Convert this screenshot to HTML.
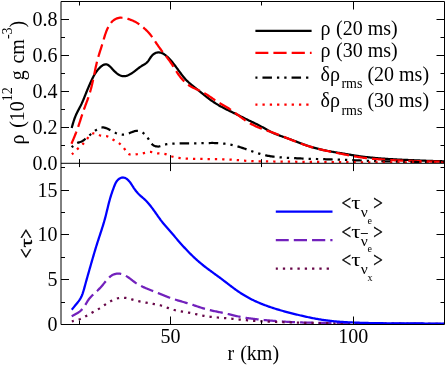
<!DOCTYPE html>
<html><head><meta charset="utf-8"><title>plot</title>
<style>html,body{margin:0;padding:0;background:#fff;width:447px;height:366px;overflow:hidden;font-family:"Liberation Serif",serif}</style>
</head><body>
<svg width="447" height="366" viewBox="0 0 447 366" style="display:block;position:absolute;left:0;top:0;will-change:transform">
<rect x="0" y="0" width="447" height="366" fill="#fff"/>
<defs><clipPath id="c1"><rect x="61" y="1.5" width="383.5" height="161.6"/></clipPath><clipPath id="c2"><rect x="61" y="163.1" width="383.5" height="161.4"/></clipPath></defs>
<path d="M71.70,128.00 L71.96,127.03 L72.23,126.07 L72.50,125.10 L72.77,124.14 L73.05,123.17 L73.34,122.22 L73.63,121.26 L73.94,120.31 L74.26,119.36 L74.59,118.42 L74.94,117.49 L75.30,116.56 L75.68,115.64 L76.08,114.73 L76.50,113.82 L76.93,112.92 L77.37,112.03 L77.83,111.14 L78.29,110.25 L78.75,109.37 L79.22,108.48 L79.68,107.59 L80.14,106.71 L80.60,105.82 L81.04,104.92 L81.48,104.03 L81.90,103.12 L82.31,102.22 L82.72,101.30 L83.11,100.39 L83.50,99.47 L83.88,98.55 L84.25,97.63 L84.62,96.70 L84.99,95.77 L85.36,94.84 L85.73,93.91 L86.10,92.98 L86.48,92.05 L86.85,91.12 L87.23,90.19 L87.62,89.26 L88.01,88.33 L88.41,87.40 L88.81,86.48 L89.21,85.56 L89.61,84.65 L90.02,83.73 L90.43,82.83 L90.84,81.93 L91.24,81.04 L91.65,80.15 L92.06,79.27 L92.48,78.40 L92.91,77.53 L93.35,76.67 L93.80,75.81 L94.28,74.96 L94.78,74.11 L95.31,73.26 L95.87,72.41 L96.47,71.57 L97.10,70.72 L97.78,69.88 L98.51,69.03 L99.27,68.20 L100.08,67.39 L100.91,66.64 L101.76,65.96 L102.63,65.36 L103.50,64.88 L104.37,64.53 L105.23,64.33 L106.07,64.30 L106.89,64.46 L107.68,64.78 L108.46,65.25 L109.23,65.83 L110.00,66.52 L110.75,67.28 L111.51,68.09 L112.28,68.94 L113.05,69.79 L113.83,70.64 L114.64,71.44 L115.46,72.21 L116.29,72.93 L117.14,73.59 L118.00,74.19 L118.88,74.73 L119.77,75.19 L120.66,75.58 L121.57,75.87 L122.49,76.08 L123.42,76.19 L124.35,76.19 L125.29,76.09 L126.23,75.89 L127.17,75.61 L128.10,75.26 L129.04,74.84 L129.96,74.36 L130.87,73.83 L131.76,73.27 L132.64,72.68 L133.50,72.07 L134.34,71.45 L135.15,70.82 L135.95,70.20 L136.73,69.58 L137.51,68.96 L138.30,68.35 L139.08,67.76 L139.88,67.18 L140.69,66.62 L141.53,66.08 L142.39,65.56 L143.27,65.05 L144.14,64.54 L144.99,64.00 L145.80,63.43 L146.57,62.81 L147.27,62.13 L147.91,61.39 L148.50,60.60 L149.06,59.78 L149.61,58.94 L150.16,58.09 L150.73,57.25 L151.33,56.43 L151.97,55.65 L152.68,54.92 L153.45,54.25 L154.28,53.66 L155.16,53.16 L156.08,52.78 L157.05,52.52 L158.05,52.40 L159.06,52.41 L160.07,52.53 L161.06,52.76 L162.01,53.09 L162.92,53.52 L163.78,54.02 L164.62,54.58 L165.42,55.19 L166.19,55.83 L166.95,56.50 L167.69,57.18 L168.41,57.88 L169.11,58.59 L169.80,59.32 L170.48,60.05 L171.14,60.80 L171.79,61.56 L172.43,62.32 L173.06,63.10 L173.69,63.88 L174.30,64.67 L174.91,65.46 L175.51,66.26 L176.11,67.07 L176.70,67.87 L177.29,68.68 L177.88,69.50 L178.48,70.31 L179.07,71.12 L179.66,71.93 L180.26,72.73 L180.86,73.54 L181.46,74.34 L182.08,75.13 L182.69,75.91 L183.32,76.69 L183.96,77.46 L184.61,78.21 L185.26,78.96 L185.94,79.69 L186.62,80.41 L187.32,81.12 L188.03,81.81 L188.76,82.49 L189.50,83.15 L190.26,83.81 L191.02,84.45 L191.79,85.09 L192.56,85.72 L193.35,86.34 L194.13,86.96 L194.92,87.58 L195.71,88.20 L196.50,88.82 L197.29,89.44 L198.07,90.06 L198.85,90.68 L199.63,91.31 L200.41,91.95 L201.18,92.58 L201.95,93.21 L202.72,93.85 L203.50,94.48 L204.27,95.11 L205.04,95.74 L205.82,96.37 L206.60,96.98 L207.39,97.60 L208.18,98.21 L208.98,98.81 L209.78,99.40 L210.59,99.99 L211.41,100.56 L212.23,101.13 L213.05,101.69 L213.89,102.25 L214.72,102.79 L215.57,103.33 L216.41,103.86 L217.27,104.39 L218.13,104.90 L218.99,105.41 L219.85,105.91 L220.72,106.40 L221.60,106.88 L222.48,107.36 L223.36,107.83 L224.25,108.29 L225.14,108.74 L226.03,109.19 L226.92,109.64 L227.82,110.08 L228.71,110.52 L229.61,110.96 L230.51,111.39 L231.41,111.82 L232.31,112.26 L233.21,112.69 L234.11,113.12 L235.01,113.56 L235.91,114.00 L236.80,114.44 L237.70,114.88 L238.59,115.33 L239.49,115.77 L240.38,116.22 L241.27,116.67 L242.16,117.12 L243.06,117.56 L243.95,118.01 L244.84,118.46 L245.74,118.90 L246.63,119.34 L247.53,119.78 L248.43,120.22 L249.33,120.66 L250.23,121.09 L251.13,121.52 L252.03,121.95 L252.93,122.38 L253.83,122.81 L254.73,123.24 L255.63,123.67 L256.53,124.11 L257.43,124.55 L258.32,125.00 L259.21,125.46 L260.10,125.92 L260.98,126.39 L261.85,126.87 L262.73,127.35 L263.60,127.84 L264.47,128.34 L265.34,128.83 L266.21,129.32 L267.08,129.81 L267.95,130.30 L268.83,130.77 L269.71,131.24 L270.60,131.70 L271.49,132.14 L272.39,132.57 L273.29,132.98 L274.20,133.39 L275.12,133.78 L276.04,134.16 L276.97,134.53 L277.89,134.90 L278.83,135.26 L279.76,135.61 L280.70,135.95 L281.64,136.29 L282.58,136.63 L283.53,136.96 L284.47,137.29 L285.42,137.62 L286.36,137.95 L287.31,138.28 L288.26,138.62 L289.20,138.95 L290.14,139.29 L291.08,139.63 L292.02,139.98 L292.96,140.33 L293.89,140.68 L294.83,141.04 L295.76,141.40 L296.69,141.76 L297.63,142.12 L298.56,142.48 L299.49,142.84 L300.42,143.19 L301.35,143.55 L302.29,143.90 L303.22,144.25 L304.16,144.59 L305.10,144.93 L306.04,145.27 L306.98,145.59 L307.93,145.91 L308.88,146.22 L309.83,146.52 L310.78,146.82 L311.74,147.10 L312.70,147.38 L313.66,147.66 L314.62,147.92 L315.59,148.18 L316.55,148.44 L317.52,148.68 L318.49,148.92 L319.46,149.16 L320.44,149.39 L321.41,149.61 L322.39,149.83 L323.37,150.04 L324.34,150.24 L325.32,150.45 L326.30,150.64 L327.28,150.83 L328.27,151.02 L329.25,151.21 L330.23,151.39 L331.21,151.56 L332.20,151.74 L333.18,151.91 L334.16,152.08 L335.15,152.24 L336.13,152.41 L337.12,152.58 L338.10,152.74 L339.09,152.90 L340.07,153.06 L341.06,153.23 L342.04,153.39 L343.03,153.55 L344.01,153.72 L345.00,153.89 L345.98,154.05 L346.97,154.22 L347.95,154.38 L348.94,154.55 L349.93,154.71 L350.91,154.87 L351.90,155.04 L352.88,155.19 L353.87,155.35 L354.85,155.51 L355.84,155.66 L356.83,155.81 L357.82,155.96 L358.80,156.10 L359.79,156.24 L360.78,156.38 L361.77,156.51 L362.76,156.64 L363.75,156.77 L364.75,156.89 L365.74,157.00 L366.73,157.12 L367.72,157.23 L368.71,157.34 L369.71,157.44 L370.70,157.55 L371.70,157.64 L372.69,157.74 L373.68,157.84 L374.68,157.93 L375.67,158.02 L376.67,158.10 L377.66,158.19 L378.66,158.27 L379.66,158.35 L380.65,158.43 L381.65,158.51 L382.64,158.58 L383.64,158.66 L384.64,158.73 L385.63,158.80 L386.63,158.87 L387.62,158.94 L388.62,159.00 L389.62,159.06 L390.61,159.13 L391.61,159.19 L392.61,159.24 L393.61,159.30 L394.60,159.36 L395.60,159.41 L396.60,159.46 L397.59,159.51 L398.59,159.56 L399.59,159.61 L400.59,159.66 L401.59,159.71 L402.58,159.75 L403.58,159.80 L404.58,159.84 L405.58,159.89 L406.57,159.93 L407.57,159.97 L408.57,160.01 L409.57,160.06 L410.57,160.10 L411.56,160.14 L412.56,160.18 L413.56,160.22 L414.56,160.27 L415.55,160.31 L416.55,160.35 L417.55,160.39 L418.55,160.43 L419.55,160.48 L420.54,160.52 L421.54,160.56 L422.54,160.60 L423.54,160.64 L424.54,160.68 L425.53,160.72 L426.53,160.76 L427.53,160.79 L428.53,160.83 L429.53,160.87 L430.52,160.90 L431.52,160.93 L432.52,160.97 L433.52,161.00 L434.52,161.03 L435.51,161.06 L436.51,161.09 L437.51,161.11 L438.51,161.14 L439.51,161.17 L440.51,161.20 L441.50,161.22 L442.50,161.25 L443.50,161.27 L444.50,161.30" fill="none" stroke="#000" stroke-width="2.25" stroke-linejoin="round" clip-path="url(#c1)"/>
<path d="M71.50,143.70 L71.89,142.78 L72.28,141.86 L72.67,140.93 L73.05,140.01 L73.44,139.09 L73.82,138.16 L74.20,137.24 L74.58,136.31 L74.95,135.39 L75.33,134.46 L75.69,133.53 L76.06,132.60 L76.41,131.66 L76.77,130.73 L77.11,129.79 L77.45,128.85 L77.79,127.91 L78.12,126.97 L78.44,126.02 L78.76,125.07 L79.08,124.13 L79.39,123.18 L79.70,122.23 L80.01,121.28 L80.31,120.32 L80.62,119.37 L80.93,118.42 L81.24,117.47 L81.54,116.52 L81.85,115.57 L82.17,114.62 L82.48,113.67 L82.80,112.72 L83.13,111.77 L83.46,110.83 L83.80,109.89 L84.13,108.95 L84.48,108.01 L84.83,107.07 L85.17,106.13 L85.52,105.20 L85.87,104.26 L86.22,103.32 L86.57,102.38 L86.92,101.45 L87.26,100.51 L87.60,99.57 L87.94,98.63 L88.27,97.68 L88.59,96.74 L88.91,95.79 L89.21,94.84 L89.51,93.88 L89.80,92.93 L90.09,91.97 L90.37,91.01 L90.64,90.05 L90.90,89.08 L91.16,88.12 L91.41,87.15 L91.65,86.18 L91.89,85.21 L92.12,84.23 L92.35,83.26 L92.58,82.28 L92.80,81.31 L93.01,80.33 L93.22,79.35 L93.43,78.37 L93.64,77.39 L93.84,76.41 L94.04,75.43 L94.24,74.45 L94.44,73.47 L94.64,72.49 L94.84,71.51 L95.04,70.53 L95.25,69.55 L95.45,68.57 L95.66,67.59 L95.87,66.61 L96.08,65.64 L96.30,64.66 L96.53,63.69 L96.76,62.72 L96.99,61.75 L97.24,60.78 L97.49,59.81 L97.75,58.85 L98.02,57.88 L98.29,56.92 L98.58,55.97 L98.87,55.01 L99.16,54.06 L99.46,53.10 L99.77,52.15 L100.07,51.20 L100.38,50.24 L100.69,49.29 L101.00,48.34 L101.30,47.39 L101.60,46.43 L101.90,45.48 L102.19,44.52 L102.48,43.57 L102.76,42.61 L103.04,41.65 L103.32,40.69 L103.60,39.73 L103.88,38.77 L104.17,37.81 L104.46,36.86 L104.76,35.90 L105.06,34.95 L105.38,34.00 L105.71,33.06 L106.05,32.12 L106.40,31.18 L106.78,30.25 L107.17,29.32 L107.58,28.40 L108.02,27.49 L108.48,26.59 L108.96,25.70 L109.49,24.84 L110.04,24.01 L110.64,23.20 L111.28,22.42 L111.97,21.69 L112.70,21.00 L113.49,20.36 L114.32,19.77 L115.20,19.24 L116.10,18.78 L117.04,18.39 L118.00,18.08 L118.98,17.86 L119.97,17.74 L120.97,17.70 L121.97,17.75 L122.97,17.85 L123.97,18.00 L124.96,18.19 L125.95,18.41 L126.93,18.64 L127.90,18.90 L128.86,19.19 L129.82,19.49 L130.76,19.83 L131.69,20.18 L132.61,20.57 L133.52,20.97 L134.42,21.41 L135.31,21.87 L136.18,22.35 L137.04,22.86 L137.89,23.39 L138.73,23.95 L139.55,24.52 L140.37,25.11 L141.17,25.71 L141.96,26.34 L142.73,26.98 L143.50,27.63 L144.25,28.29 L144.99,28.97 L145.72,29.66 L146.44,30.36 L147.14,31.07 L147.83,31.80 L148.51,32.53 L149.17,33.28 L149.82,34.05 L150.45,34.82 L151.07,35.60 L151.68,36.40 L152.27,37.21 L152.85,38.02 L153.42,38.84 L153.98,39.67 L154.53,40.50 L155.09,41.33 L155.64,42.17 L156.20,43.00 L156.75,43.83 L157.32,44.66 L157.88,45.48 L158.46,46.30 L159.04,47.11 L159.62,47.92 L160.21,48.73 L160.81,49.53 L161.41,50.33 L162.02,51.13 L162.63,51.92 L163.24,52.71 L163.86,53.50 L164.48,54.28 L165.10,55.07 L165.72,55.85 L166.34,56.64 L166.96,57.43 L167.57,58.22 L168.18,59.01 L168.78,59.81 L169.37,60.61 L169.95,61.42 L170.53,62.24 L171.09,63.06 L171.65,63.89 L172.19,64.73 L172.73,65.57 L173.27,66.41 L173.80,67.26 L174.33,68.11 L174.86,68.95 L175.39,69.80 L175.92,70.65 L176.46,71.49 L177.00,72.33 L177.55,73.16 L178.12,73.99 L178.69,74.82 L179.27,75.63 L179.87,76.44 L180.48,77.23 L181.11,78.02 L181.76,78.79 L182.42,79.55 L183.10,80.30 L183.80,81.02 L184.52,81.73 L185.25,82.42 L186.00,83.08 L186.77,83.73 L187.55,84.34 L188.36,84.93 L189.18,85.49 L190.02,86.02 L190.88,86.52 L191.75,87.00 L192.64,87.47 L193.53,87.91 L194.43,88.35 L195.34,88.77 L196.26,89.18 L197.17,89.59 L198.09,90.00 L199.01,90.41 L199.92,90.83 L200.83,91.26 L201.73,91.69 L202.63,92.14 L203.51,92.61 L204.38,93.10 L205.24,93.61 L206.09,94.13 L206.94,94.66 L207.77,95.21 L208.61,95.76 L209.43,96.33 L210.26,96.89 L211.08,97.47 L211.90,98.04 L212.72,98.61 L213.54,99.19 L214.37,99.75 L215.20,100.31 L216.03,100.87 L216.87,101.41 L217.72,101.94 L218.57,102.46 L219.43,102.98 L220.30,103.48 L221.16,103.99 L222.03,104.49 L222.90,104.98 L223.76,105.48 L224.63,105.98 L225.49,106.48 L226.35,106.99 L227.21,107.51 L228.06,108.03 L228.90,108.57 L229.74,109.11 L230.57,109.67 L231.39,110.23 L232.21,110.80 L233.02,111.38 L233.83,111.97 L234.63,112.56 L235.43,113.16 L236.24,113.76 L237.03,114.36 L237.83,114.96 L238.63,115.56 L239.43,116.16 L240.24,116.76 L241.04,117.36 L241.85,117.95 L242.66,118.54 L243.48,119.12 L244.30,119.69 L245.13,120.25 L245.97,120.81 L246.81,121.36 L247.65,121.90 L248.50,122.42 L249.36,122.94 L250.23,123.44 L251.10,123.93 L251.97,124.41 L252.86,124.88 L253.75,125.33 L254.65,125.77 L255.55,126.19 L256.46,126.60 L257.38,126.99 L258.30,127.38 L259.22,127.75 L260.16,128.11 L261.09,128.47 L262.03,128.82 L262.97,129.16 L263.91,129.50 L264.86,129.83 L265.80,130.16 L266.75,130.49 L267.70,130.82 L268.64,131.15 L269.59,131.47 L270.53,131.81 L271.48,132.14 L272.42,132.48 L273.36,132.82 L274.30,133.17 L275.24,133.51 L276.17,133.87 L277.11,134.22 L278.04,134.58 L278.98,134.93 L279.91,135.29 L280.84,135.66 L281.77,136.02 L282.70,136.39 L283.63,136.75 L284.56,137.12 L285.49,137.49 L286.42,137.86 L287.34,138.23 L288.27,138.61 L289.20,138.98 L290.13,139.35 L291.06,139.72 L291.99,140.09 L292.91,140.47 L293.84,140.84 L294.77,141.20 L295.70,141.57 L296.64,141.94 L297.57,142.30 L298.50,142.66 L299.44,143.01 L300.37,143.37 L301.31,143.71 L302.25,144.06 L303.19,144.40 L304.13,144.73 L305.08,145.06 L306.02,145.38 L306.97,145.70 L307.92,146.00 L308.87,146.30 L309.83,146.60 L310.79,146.89 L311.75,147.17 L312.71,147.44 L313.67,147.71 L314.63,147.98 L315.60,148.24 L316.57,148.49 L317.54,148.74 L318.51,148.98 L319.48,149.22 L320.45,149.46 L321.43,149.69 L322.40,149.91 L323.38,150.14 L324.35,150.36 L325.33,150.57 L326.31,150.79 L327.28,151.00 L328.26,151.20 L329.24,151.41 L330.22,151.61 L331.20,151.82 L332.18,152.02 L333.16,152.21 L334.14,152.41 L335.12,152.61 L336.10,152.80 L337.08,152.99 L338.06,153.19 L339.04,153.38 L340.02,153.57 L341.00,153.77 L341.98,153.96 L342.97,154.15 L343.95,154.35 L344.93,154.54 L345.91,154.73 L346.89,154.93 L347.87,155.12 L348.85,155.31 L349.84,155.50 L350.82,155.69 L351.80,155.87 L352.78,156.05 L353.77,156.23 L354.75,156.41 L355.74,156.58 L356.72,156.75 L357.71,156.91 L358.70,157.07 L359.68,157.22 L360.67,157.37 L361.66,157.51 L362.65,157.65 L363.64,157.78 L364.63,157.91 L365.63,158.03 L366.62,158.14 L367.61,158.26 L368.61,158.36 L369.60,158.47 L370.60,158.57 L371.59,158.66 L372.59,158.76 L373.59,158.85 L374.58,158.94 L375.58,159.02 L376.58,159.10 L377.57,159.18 L378.57,159.26 L379.57,159.34 L380.56,159.41 L381.56,159.48 L382.56,159.55 L383.56,159.62 L384.55,159.69 L385.55,159.75 L386.55,159.81 L387.55,159.87 L388.55,159.93 L389.54,159.99 L390.54,160.05 L391.54,160.10 L392.54,160.16 L393.54,160.21 L394.54,160.26 L395.53,160.31 L396.53,160.35 L397.53,160.40 L398.53,160.45 L399.53,160.49 L400.53,160.53 L401.53,160.58 L402.53,160.62 L403.52,160.66 L404.52,160.70 L405.52,160.73 L406.52,160.77 L407.52,160.81 L408.52,160.84 L409.52,160.88 L410.52,160.92 L411.52,160.95 L412.52,160.98 L413.52,161.02 L414.52,161.05 L415.51,161.08 L416.51,161.12 L417.51,161.15 L418.51,161.18 L419.51,161.21 L420.51,161.24 L421.51,161.27 L422.51,161.30 L423.51,161.33 L424.51,161.36 L425.51,161.38 L426.51,161.41 L427.51,161.44 L428.51,161.46 L429.51,161.49 L430.51,161.51 L431.51,161.54 L432.50,161.56 L433.50,161.58 L434.50,161.60 L435.50,161.62 L436.50,161.64 L437.50,161.66 L438.50,161.68 L439.50,161.70 L440.50,161.72 L441.50,161.74 L442.50,161.76 L443.50,161.78 L444.50,161.80" fill="none" stroke="#ff0000" stroke-width="2.25" stroke-dasharray="13.2,5.05" stroke-dashoffset="0.25" stroke-linejoin="round" clip-path="url(#c1)"/>
<path d="M71.70,147.30 L72.43,146.58 L73.17,145.87 L73.93,145.19 L74.70,144.54 L75.50,143.95 L76.34,143.42 L77.21,142.97 L78.13,142.60 L79.09,142.31 L80.05,142.03 L81.01,141.72 L81.92,141.34 L82.78,140.86 L83.60,140.28 L84.39,139.66 L85.16,139.00 L85.92,138.34 L86.69,137.69 L87.46,137.05 L88.23,136.41 L89.00,135.78 L89.76,135.15 L90.52,134.51 L91.28,133.88 L92.04,133.25 L92.80,132.61 L93.57,131.98 L94.36,131.36 L95.16,130.75 L95.98,130.14 L96.83,129.55 L97.70,129.00 L98.60,128.49 L99.51,128.07 L100.44,127.74 L101.38,127.52 L102.34,127.43 L103.30,127.47 L104.27,127.62 L105.24,127.86 L106.21,128.19 L107.17,128.58 L108.13,129.01 L109.07,129.49 L110.00,129.98 L110.91,130.48 L111.80,130.97 L112.68,131.46 L113.56,131.93 L114.44,132.38 L115.32,132.81 L116.23,133.21 L117.15,133.58 L118.10,133.91 L119.07,134.20 L120.06,134.43 L121.06,134.61 L122.06,134.71 L123.06,134.74 L124.05,134.69 L125.02,134.55 L125.98,134.33 L126.94,134.05 L127.89,133.73 L128.85,133.36 L129.80,132.98 L130.77,132.58 L131.74,132.19 L132.71,131.82 L133.68,131.49 L134.66,131.20 L135.63,130.99 L136.60,130.86 L137.57,130.83 L138.54,130.91 L139.50,131.11 L140.44,131.43 L141.36,131.84 L142.26,132.34 L143.11,132.91 L143.92,133.54 L144.69,134.20 L145.40,134.91 L146.07,135.65 L146.70,136.42 L147.30,137.22 L147.87,138.04 L148.41,138.89 L148.94,139.77 L149.46,140.65 L149.99,141.52 L150.55,142.37 L151.14,143.18 L151.78,143.93 L152.50,144.61 L153.29,145.20 L154.18,145.68 L155.12,146.06 L156.11,146.33 L157.13,146.48 L158.14,146.51 L159.14,146.42 L160.12,146.23 L161.08,145.96 L162.03,145.64 L162.97,145.30 L163.92,144.95 L164.87,144.64 L165.84,144.38 L166.81,144.17 L167.79,144.00 L168.79,143.88 L169.78,143.78 L170.78,143.72 L171.79,143.66 L172.79,143.63 L173.80,143.59 L174.80,143.55 L175.80,143.52 L176.80,143.48 L177.80,143.45 L178.80,143.41 L179.79,143.38 L180.79,143.36 L181.79,143.33 L182.78,143.31 L183.78,143.30 L184.78,143.29 L185.77,143.28 L186.77,143.28 L187.77,143.28 L188.77,143.29 L189.77,143.29 L190.77,143.30 L191.76,143.31 L192.76,143.31 L193.76,143.31 L194.76,143.31 L195.76,143.31 L196.76,143.30 L197.76,143.29 L198.76,143.27 L199.76,143.25 L200.75,143.23 L201.75,143.20 L202.75,143.17 L203.75,143.15 L204.75,143.12 L205.75,143.09 L206.74,143.06 L207.74,143.04 L208.74,143.02 L209.74,143.01 L210.74,143.00 L211.74,142.99 L212.74,142.99 L213.74,143.00 L214.74,143.02 L215.74,143.04 L216.73,143.08 L217.73,143.12 L218.73,143.17 L219.73,143.23 L220.72,143.30 L221.72,143.39 L222.71,143.48 L223.71,143.59 L224.70,143.71 L225.69,143.84 L226.68,143.99 L227.67,144.15 L228.65,144.32 L229.63,144.50 L230.61,144.70 L231.59,144.90 L232.57,145.12 L233.54,145.35 L234.51,145.58 L235.48,145.83 L236.45,146.09 L237.41,146.36 L238.37,146.64 L239.33,146.93 L240.28,147.22 L241.23,147.52 L242.18,147.83 L243.13,148.15 L244.07,148.47 L245.02,148.79 L245.96,149.12 L246.90,149.45 L247.85,149.78 L248.79,150.12 L249.73,150.45 L250.67,150.79 L251.61,151.12 L252.56,151.46 L253.50,151.79 L254.45,152.11 L255.39,152.44 L256.34,152.75 L257.29,153.06 L258.24,153.37 L259.20,153.66 L260.16,153.95 L261.11,154.22 L262.08,154.49 L263.04,154.74 L264.01,154.98 L264.98,155.20 L265.96,155.42 L266.94,155.62 L267.92,155.80 L268.90,155.98 L269.89,156.14 L270.87,156.30 L271.86,156.44 L272.85,156.58 L273.85,156.70 L274.84,156.82 L275.83,156.93 L276.83,157.03 L277.82,157.13 L278.82,157.22 L279.82,157.31 L280.81,157.38 L281.81,157.46 L282.80,157.53 L283.80,157.60 L284.80,157.66 L285.79,157.72 L286.79,157.78 L287.79,157.83 L288.78,157.88 L289.78,157.94 L290.78,157.99 L291.77,158.04 L292.77,158.09 L293.77,158.14 L294.77,158.19 L295.76,158.24 L296.76,158.28 L297.76,158.33 L298.76,158.38 L299.76,158.42 L300.75,158.46 L301.75,158.50 L302.75,158.54 L303.75,158.58 L304.74,158.62 L305.74,158.65 L306.74,158.69 L307.74,158.72 L308.74,158.76 L309.73,158.79 L310.73,158.82 L311.73,158.85 L312.73,158.88 L313.73,158.91 L314.73,158.94 L315.72,158.97 L316.72,159.00 L317.72,159.03 L318.72,159.06 L319.72,159.09 L320.71,159.12 L321.71,159.15 L322.71,159.18 L323.71,159.21 L324.71,159.24 L325.71,159.27 L326.70,159.31 L327.70,159.34 L328.70,159.37 L329.70,159.40 L330.70,159.43 L331.69,159.46 L332.69,159.50 L333.69,159.53 L334.69,159.56 L335.69,159.60 L336.68,159.63 L337.68,159.66 L338.68,159.70 L339.68,159.73 L340.68,159.77 L341.68,159.80 L342.67,159.84 L343.67,159.87 L344.67,159.91 L345.67,159.94 L346.67,159.98 L347.66,160.01 L348.66,160.05 L349.66,160.09 L350.66,160.12 L351.66,160.16 L352.65,160.20 L353.65,160.24 L354.65,160.28 L355.65,160.31 L356.64,160.35 L357.64,160.39 L358.64,160.43 L359.64,160.47 L360.64,160.50 L361.63,160.54 L362.63,160.58 L363.63,160.62 L364.63,160.66 L365.63,160.70 L366.62,160.73 L367.62,160.77 L368.62,160.81 L369.62,160.84 L370.62,160.88 L371.61,160.92 L372.61,160.95 L373.61,160.99 L374.61,161.02 L375.61,161.06 L376.60,161.09 L377.60,161.12 L378.60,161.16 L379.60,161.19 L380.60,161.22 L381.59,161.25 L382.59,161.28 L383.59,161.31 L384.59,161.34 L385.59,161.37 L386.59,161.39 L387.58,161.42 L388.58,161.45 L389.58,161.47 L390.58,161.50 L391.58,161.52 L392.57,161.55 L393.57,161.57 L394.57,161.59 L395.57,161.61 L396.57,161.64 L397.57,161.66 L398.56,161.68 L399.56,161.70 L400.56,161.72 L401.56,161.74 L402.56,161.76 L403.56,161.78 L404.56,161.80 L405.55,161.81 L406.55,161.83 L407.55,161.85 L408.55,161.86 L409.55,161.88 L410.55,161.90 L411.55,161.91 L412.54,161.93 L413.54,161.94 L414.54,161.96 L415.54,161.97 L416.54,161.99 L417.54,162.00 L418.53,162.01 L419.53,162.03 L420.53,162.04 L421.53,162.05 L422.53,162.06 L423.53,162.08 L424.53,162.09 L425.53,162.10 L426.52,162.11 L427.52,162.12 L428.52,162.14 L429.52,162.15 L430.52,162.16 L431.52,162.17 L432.52,162.18 L433.51,162.19 L434.51,162.20 L435.51,162.21 L436.51,162.22 L437.51,162.23 L438.51,162.24 L439.51,162.25 L440.51,162.26 L441.50,162.27 L442.50,162.28 L443.50,162.29 L444.50,162.30" fill="none" stroke="#000" stroke-width="2.25" stroke-dasharray="2.3,5.0,9.5,5.0,2.3,5.0" stroke-dashoffset="0.25" stroke-linejoin="round" clip-path="url(#c1)"/>
<path d="M71.90,154.40 L72.61,153.70 L73.32,152.99 L74.03,152.29 L74.74,151.60 L75.46,150.90 L76.18,150.21 L76.91,149.53 L77.65,148.85 L78.40,148.18 L79.15,147.52 L79.90,146.85 L80.64,146.18 L81.37,145.50 L82.09,144.81 L82.79,144.11 L83.47,143.39 L84.13,142.66 L84.77,141.90 L85.40,141.14 L86.02,140.35 L86.63,139.55 L87.24,138.74 L87.86,137.92 L88.50,137.09 L89.15,136.29 L89.84,135.54 L90.58,134.86 L91.38,134.27 L92.24,133.79 L93.18,133.45 L94.18,133.26 L95.20,133.26 L96.18,133.45 L97.10,133.83 L97.98,134.32 L98.85,134.83 L99.74,135.28 L100.68,135.58 L101.65,135.76 L102.65,135.85 L103.67,135.90 L104.69,135.95 L105.69,136.03 L106.67,136.19 L107.62,136.46 L108.53,136.83 L109.42,137.27 L110.29,137.78 L111.15,138.32 L112.00,138.88 L112.85,139.44 L113.72,139.98 L114.58,140.51 L115.45,141.01 L116.32,141.52 L117.17,142.03 L118.01,142.55 L118.84,143.10 L119.63,143.67 L120.40,144.28 L121.14,144.93 L121.86,145.62 L122.54,146.34 L123.20,147.11 L123.84,147.91 L124.44,148.76 L125.03,149.65 L125.60,150.55 L126.19,151.43 L126.79,152.26 L127.44,153.01 L128.14,153.65 L128.91,154.16 L129.77,154.50 L130.70,154.69 L131.69,154.77 L132.72,154.75 L133.78,154.66 L134.84,154.53 L135.89,154.39 L136.91,154.25 L137.92,154.12 L138.91,153.99 L139.89,153.85 L140.86,153.70 L141.83,153.54 L142.80,153.34 L143.77,153.12 L144.75,152.89 L145.74,152.65 L146.72,152.43 L147.71,152.23 L148.70,152.08 L149.69,152.00 L150.67,151.99 L151.66,152.08 L152.63,152.24 L153.61,152.45 L154.59,152.69 L155.56,152.92 L156.55,153.14 L157.54,153.31 L158.54,153.41 L159.54,153.47 L160.54,153.50 L161.54,153.54 L162.53,153.60 L163.52,153.72 L164.49,153.90 L165.45,154.14 L166.40,154.43 L167.34,154.76 L168.29,155.10 L169.23,155.46 L170.17,155.82 L171.12,156.17 L172.07,156.49 L173.03,156.78 L174.00,157.04 L174.97,157.27 L175.95,157.47 L176.93,157.65 L177.92,157.81 L178.91,157.95 L179.91,158.07 L180.90,158.17 L181.90,158.27 L182.90,158.35 L183.90,158.42 L184.90,158.49 L185.90,158.54 L186.90,158.60 L187.90,158.64 L188.89,158.69 L189.89,158.72 L190.89,158.76 L191.89,158.79 L192.88,158.81 L193.88,158.84 L194.88,158.86 L195.88,158.88 L196.88,158.90 L197.87,158.92 L198.87,158.94 L199.87,158.95 L200.87,158.97 L201.87,158.99 L202.87,159.00 L203.86,159.02 L204.86,159.03 L205.86,159.05 L206.86,159.06 L207.86,159.07 L208.86,159.08 L209.86,159.09 L210.86,159.10 L211.86,159.11 L212.86,159.12 L213.85,159.13 L214.85,159.14 L215.85,159.15 L216.85,159.16 L217.85,159.17 L218.85,159.18 L219.85,159.20 L220.84,159.22 L221.84,159.24 L222.84,159.27 L223.84,159.30 L224.84,159.34 L225.84,159.38 L226.83,159.42 L227.83,159.47 L228.83,159.53 L229.82,159.58 L230.82,159.64 L231.82,159.71 L232.82,159.77 L233.81,159.84 L234.81,159.92 L235.80,159.99 L236.80,160.07 L237.80,160.15 L238.79,160.23 L239.79,160.31 L240.78,160.39 L241.78,160.47 L242.78,160.56 L243.77,160.64 L244.77,160.71 L245.76,160.79 L246.76,160.86 L247.76,160.93 L248.75,160.99 L249.75,161.05 L250.75,161.10 L251.74,161.15 L252.74,161.19 L253.74,161.23 L254.74,161.26 L255.73,161.28 L256.73,161.31 L257.73,161.32 L258.73,161.34 L259.73,161.35 L260.73,161.37 L261.73,161.38 L262.73,161.39 L263.73,161.40 L264.73,161.41 L265.72,161.42 L266.72,161.43 L267.72,161.44 L268.72,161.45 L269.72,161.46 L270.72,161.47 L271.72,161.48 L272.72,161.49 L273.72,161.50 L274.71,161.51 L275.71,161.52 L276.71,161.53 L277.71,161.54 L278.71,161.56 L279.71,161.57 L280.71,161.58 L281.71,161.59 L282.70,161.60 L283.70,161.61 L284.70,161.63 L285.70,161.64 L286.70,161.65 L287.70,161.66 L288.70,161.67 L289.69,161.68 L290.69,161.70 L291.69,161.71 L292.69,161.72 L293.69,161.73 L294.69,161.74 L295.69,161.75 L296.68,161.76 L297.68,161.77 L298.68,161.79 L299.68,161.80 L300.68,161.81 L301.68,161.82 L302.68,161.83 L303.67,161.84 L304.67,161.85 L305.67,161.86 L306.67,161.87 L307.67,161.88 L308.67,161.89 L309.67,161.90 L310.67,161.91 L311.66,161.92 L312.66,161.93 L313.66,161.94 L314.66,161.94 L315.66,161.95 L316.66,161.96 L317.66,161.97 L318.65,161.98 L319.65,161.99 L320.65,162.00 L321.65,162.01 L322.65,162.01 L323.65,162.02 L324.65,162.03 L325.65,162.04 L326.64,162.04 L327.64,162.05 L328.64,162.06 L329.64,162.07 L330.64,162.08 L331.64,162.08 L332.64,162.09 L333.64,162.10 L334.63,162.10 L335.63,162.11 L336.63,162.12 L337.63,162.12 L338.63,162.13 L339.63,162.14 L340.63,162.14 L341.63,162.15 L342.63,162.16 L343.62,162.16 L344.62,162.17 L345.62,162.17 L346.62,162.18 L347.62,162.19 L348.62,162.19 L349.62,162.20 L350.62,162.20 L351.61,162.21 L352.61,162.21 L353.61,162.22 L354.61,162.23 L355.61,162.23 L356.61,162.24 L357.61,162.24 L358.61,162.25 L359.60,162.25 L360.60,162.26 L361.60,162.26 L362.60,162.27 L363.60,162.27 L364.60,162.27 L365.60,162.28 L366.60,162.28 L367.60,162.29 L368.59,162.29 L369.59,162.30 L370.59,162.30 L371.59,162.30 L372.59,162.31 L373.59,162.31 L374.59,162.32 L375.59,162.32 L376.58,162.32 L377.58,162.33 L378.58,162.33 L379.58,162.34 L380.58,162.34 L381.58,162.34 L382.58,162.35 L383.58,162.35 L384.57,162.35 L385.57,162.36 L386.57,162.36 L387.57,162.36 L388.57,162.37 L389.57,162.37 L390.57,162.37 L391.57,162.38 L392.56,162.38 L393.56,162.38 L394.56,162.39 L395.56,162.39 L396.56,162.39 L397.56,162.39 L398.56,162.40 L399.56,162.40 L400.55,162.40 L401.55,162.41 L402.55,162.41 L403.55,162.41 L404.55,162.41 L405.55,162.42 L406.55,162.42 L407.55,162.42 L408.54,162.42 L409.54,162.43 L410.54,162.43 L411.54,162.43 L412.54,162.43 L413.54,162.44 L414.54,162.44 L415.54,162.44 L416.53,162.44 L417.53,162.44 L418.53,162.45 L419.53,162.45 L420.53,162.45 L421.53,162.45 L422.53,162.46 L423.53,162.46 L424.52,162.46 L425.52,162.46 L426.52,162.46 L427.52,162.47 L428.52,162.47 L429.52,162.47 L430.52,162.47 L431.52,162.47 L432.51,162.48 L433.51,162.48 L434.51,162.48 L435.51,162.48 L436.51,162.48 L437.51,162.49 L438.51,162.49 L439.51,162.49 L440.50,162.49 L441.50,162.49 L442.50,162.50 L443.50,162.50 L444.50,162.50" fill="none" stroke="#ff0000" stroke-width="2.25" stroke-dasharray="2.3,5.0" stroke-dashoffset="0.25" stroke-linejoin="round" clip-path="url(#c1)"/>
<path d="M71.70,316.30 L72.61,315.82 L73.52,315.34 L74.43,314.85 L75.32,314.35 L76.20,313.84 L77.07,313.32 L77.92,312.78 L78.74,312.21 L79.54,311.62 L80.31,311.01 L81.05,310.36 L81.76,309.68 L82.43,308.97 L83.06,308.22 L83.65,307.43 L84.22,306.62 L84.76,305.78 L85.29,304.93 L85.81,304.06 L86.32,303.20 L86.84,302.33 L87.36,301.46 L87.90,300.61 L88.46,299.78 L89.05,298.97 L89.67,298.18 L90.32,297.42 L90.99,296.68 L91.69,295.97 L92.40,295.26 L93.13,294.58 L93.86,293.89 L94.61,293.22 L95.35,292.55 L96.10,291.88 L96.84,291.20 L97.57,290.52 L98.28,289.82 L98.98,289.11 L99.67,288.40 L100.34,287.67 L101.01,286.93 L101.67,286.18 L102.31,285.42 L102.96,284.66 L103.60,283.89 L104.24,283.12 L104.89,282.34 L105.53,281.57 L106.18,280.78 L106.84,280.01 L107.50,279.24 L108.19,278.48 L108.89,277.76 L109.63,277.07 L110.39,276.42 L111.18,275.82 L112.01,275.28 L112.89,274.81 L113.81,274.41 L114.77,274.09 L115.75,273.84 L116.75,273.68 L117.76,273.61 L118.76,273.61 L119.76,273.71 L120.76,273.88 L121.73,274.12 L122.70,274.42 L123.64,274.78 L124.57,275.19 L125.47,275.64 L126.34,276.13 L127.20,276.64 L128.04,277.19 L128.86,277.76 L129.67,278.34 L130.47,278.94 L131.27,279.55 L132.06,280.16 L132.86,280.77 L133.65,281.38 L134.46,281.98 L135.27,282.56 L136.09,283.13 L136.93,283.67 L137.78,284.19 L138.64,284.69 L139.51,285.17 L140.40,285.64 L141.29,286.09 L142.20,286.52 L143.11,286.95 L144.02,287.36 L144.94,287.76 L145.86,288.16 L146.79,288.55 L147.72,288.93 L148.64,289.31 L149.57,289.69 L150.50,290.07 L151.42,290.44 L152.35,290.82 L153.28,291.19 L154.21,291.56 L155.13,291.93 L156.06,292.30 L156.99,292.67 L157.91,293.04 L158.84,293.41 L159.77,293.79 L160.69,294.16 L161.62,294.54 L162.55,294.91 L163.48,295.29 L164.40,295.66 L165.33,296.03 L166.26,296.40 L167.19,296.76 L168.13,297.12 L169.06,297.47 L170.00,297.82 L170.94,298.16 L171.88,298.49 L172.83,298.81 L173.78,299.13 L174.73,299.44 L175.68,299.74 L176.63,300.03 L177.59,300.32 L178.55,300.61 L179.51,300.89 L180.47,301.17 L181.43,301.45 L182.39,301.72 L183.35,302.00 L184.31,302.28 L185.27,302.56 L186.23,302.84 L187.19,303.12 L188.15,303.41 L189.10,303.71 L190.06,304.01 L191.01,304.31 L191.96,304.62 L192.91,304.94 L193.86,305.25 L194.81,305.57 L195.76,305.89 L196.71,306.21 L197.65,306.53 L198.60,306.84 L199.55,307.16 L200.50,307.47 L201.45,307.77 L202.41,308.07 L203.36,308.37 L204.32,308.65 L205.28,308.93 L206.24,309.20 L207.20,309.46 L208.17,309.71 L209.14,309.95 L210.11,310.19 L211.08,310.41 L212.06,310.63 L213.03,310.85 L214.01,311.06 L214.99,311.26 L215.97,311.47 L216.95,311.67 L217.93,311.87 L218.91,312.07 L219.89,312.27 L220.87,312.47 L221.85,312.68 L222.83,312.89 L223.80,313.10 L224.78,313.32 L225.76,313.54 L226.73,313.77 L227.70,313.99 L228.68,314.22 L229.65,314.45 L230.62,314.69 L231.60,314.92 L232.57,315.15 L233.54,315.38 L234.52,315.61 L235.49,315.83 L236.46,316.05 L237.44,316.27 L238.42,316.48 L239.39,316.68 L240.37,316.88 L241.35,317.07 L242.34,317.25 L243.32,317.42 L244.30,317.59 L245.29,317.75 L246.28,317.91 L247.27,318.06 L248.26,318.20 L249.25,318.34 L250.24,318.47 L251.23,318.60 L252.22,318.72 L253.21,318.84 L254.21,318.96 L255.20,319.07 L256.20,319.18 L257.19,319.29 L258.19,319.40 L259.18,319.50 L260.18,319.61 L261.17,319.71 L262.17,319.81 L263.16,319.91 L264.16,320.01 L265.15,320.11 L266.15,320.20 L267.15,320.29 L268.14,320.39 L269.14,320.48 L270.13,320.56 L271.13,320.65 L272.13,320.74 L273.12,320.82 L274.12,320.90 L275.12,320.98 L276.11,321.06 L277.11,321.14 L278.11,321.21 L279.10,321.28 L280.10,321.36 L281.10,321.43 L282.09,321.49 L283.09,321.56 L284.09,321.62 L285.09,321.69 L286.08,321.75 L287.08,321.81 L288.08,321.86 L289.08,321.92 L290.07,321.97 L291.07,322.02 L292.07,322.07 L293.07,322.12 L294.07,322.17 L295.06,322.21 L296.06,322.26 L297.06,322.30 L298.06,322.33 L299.06,322.37 L300.06,322.41 L301.06,322.44 L302.06,322.48 L303.05,322.51 L304.05,322.54 L305.05,322.57 L306.05,322.59 L307.05,322.62 L308.05,322.64 L309.05,322.67 L310.05,322.69 L311.05,322.71 L312.05,322.73 L313.05,322.75 L314.05,322.77 L315.05,322.79 L316.05,322.81 L317.05,322.83 L318.05,322.84 L319.05,322.86 L320.05,322.87 L321.05,322.89 L322.05,322.90 L323.05,322.91 L324.05,322.93 L325.05,322.94 L326.05,322.95 L327.05,322.96 L328.04,322.98 L329.04,322.99 L330.04,323.00 L331.04,323.01 L332.04,323.02 L333.04,323.04 L334.04,323.05 L335.04,323.06 L336.04,323.07 L337.04,323.08 L338.04,323.09 L339.04,323.10 L340.04,323.12 L341.04,323.13 L342.04,323.14 L343.04,323.15 L344.04,323.16 L345.04,323.17 L346.04,323.18 L347.04,323.19 L348.04,323.20 L349.04,323.21 L350.04,323.23 L351.04,323.24 L352.04,323.25 L353.04,323.26 L354.04,323.27 L355.04,323.28 L356.04,323.29 L357.03,323.30 L358.03,323.31 L359.03,323.32 L360.03,323.33 L361.03,323.34 L362.03,323.35 L363.03,323.36 L364.03,323.37 L365.03,323.37 L366.03,323.38 L367.03,323.39 L368.03,323.40 L369.03,323.41 L370.03,323.42 L371.03,323.43 L372.03,323.44 L373.03,323.44 L374.03,323.45 L375.03,323.46 L376.03,323.47 L377.03,323.48 L378.02,323.48 L379.02,323.49 L380.02,323.50 L381.02,323.51 L382.02,323.51 L383.02,323.52 L384.02,323.53 L385.02,323.54 L386.02,323.54 L387.02,323.55 L388.02,323.56 L389.02,323.56 L390.02,323.57 L391.02,323.57 L392.02,323.58 L393.02,323.59 L394.02,323.59 L395.02,323.60 L396.02,323.60 L397.02,323.61 L398.02,323.62 L399.02,323.62 L400.02,323.63 L401.02,323.63 L402.01,323.64 L403.01,323.64 L404.01,323.65 L405.01,323.65 L406.01,323.66 L407.01,323.66 L408.01,323.67 L409.01,323.67 L410.01,323.67 L411.01,323.68 L412.01,323.68 L413.01,323.69 L414.01,323.69 L415.01,323.70 L416.01,323.70 L417.01,323.70 L418.01,323.71 L419.01,323.71 L420.01,323.72 L421.01,323.72 L422.01,323.72 L423.01,323.73 L424.01,323.73 L425.01,323.74 L426.01,323.74 L427.01,323.74 L428.01,323.75 L429.00,323.75 L430.00,323.75 L431.00,323.76 L432.00,323.76 L433.00,323.76 L434.00,323.77 L435.00,323.77 L436.00,323.77 L437.00,323.78 L438.00,323.78 L439.00,323.78 L440.00,323.79 L441.00,323.79 L442.00,323.79 L443.00,323.80 L444.00,323.80" fill="none" stroke="#7221bc" stroke-width="2.25" stroke-dasharray="13.2,5.05" stroke-dashoffset="0.25" stroke-linejoin="round" clip-path="url(#c2)"/>
<path d="M71.80,321.40 L72.78,321.19 L73.76,320.97 L74.74,320.75 L75.71,320.51 L76.67,320.25 L77.63,319.96 L78.57,319.65 L79.50,319.31 L80.43,318.93 L81.34,318.53 L82.24,318.10 L83.13,317.65 L84.02,317.18 L84.90,316.70 L85.78,316.21 L86.65,315.72 L87.52,315.23 L88.38,314.73 L89.25,314.24 L90.11,313.74 L90.98,313.25 L91.85,312.76 L92.72,312.28 L93.60,311.80 L94.48,311.32 L95.36,310.84 L96.23,310.36 L97.10,309.87 L97.97,309.38 L98.82,308.86 L99.67,308.34 L100.51,307.80 L101.34,307.25 L102.17,306.69 L103.00,306.13 L103.82,305.57 L104.65,305.00 L105.48,304.44 L106.31,303.88 L107.14,303.34 L107.98,302.80 L108.83,302.27 L109.69,301.76 L110.56,301.26 L111.43,300.79 L112.33,300.33 L113.23,299.91 L114.15,299.51 L115.08,299.14 L116.02,298.81 L116.98,298.51 L117.95,298.26 L118.93,298.06 L119.93,297.90 L120.92,297.79 L121.93,297.72 L122.93,297.71 L123.93,297.75 L124.92,297.83 L125.91,297.97 L126.89,298.15 L127.87,298.36 L128.84,298.60 L129.81,298.86 L130.77,299.13 L131.73,299.41 L132.70,299.69 L133.66,299.96 L134.62,300.22 L135.59,300.48 L136.55,300.73 L137.52,300.97 L138.49,301.20 L139.47,301.41 L140.44,301.62 L141.42,301.81 L142.40,302.00 L143.38,302.18 L144.37,302.35 L145.35,302.53 L146.33,302.71 L147.32,302.88 L148.30,303.06 L149.28,303.24 L150.26,303.42 L151.25,303.60 L152.23,303.77 L153.22,303.94 L154.20,304.10 L155.19,304.27 L156.17,304.44 L157.15,304.62 L158.13,304.82 L159.11,305.03 L160.07,305.27 L161.03,305.54 L161.99,305.82 L162.94,306.13 L163.88,306.46 L164.82,306.79 L165.76,307.13 L166.70,307.48 L167.64,307.83 L168.58,308.17 L169.52,308.51 L170.47,308.84 L171.41,309.15 L172.36,309.45 L173.32,309.73 L174.28,309.98 L175.25,310.22 L176.22,310.45 L177.19,310.66 L178.17,310.86 L179.15,311.05 L180.13,311.23 L181.12,311.40 L182.11,311.57 L183.09,311.73 L184.08,311.89 L185.07,312.06 L186.06,312.22 L187.05,312.38 L188.03,312.55 L189.02,312.73 L190.00,312.91 L190.98,313.11 L191.96,313.30 L192.94,313.51 L193.92,313.72 L194.90,313.93 L195.87,314.14 L196.85,314.36 L197.83,314.57 L198.80,314.79 L199.78,315.00 L200.75,315.20 L201.73,315.41 L202.71,315.60 L203.69,315.79 L204.67,315.97 L205.65,316.14 L206.63,316.30 L207.62,316.45 L208.60,316.59 L209.59,316.72 L210.58,316.84 L211.57,316.95 L212.57,317.06 L213.56,317.16 L214.55,317.25 L215.55,317.34 L216.54,317.42 L217.54,317.50 L218.54,317.58 L219.53,317.66 L220.53,317.74 L221.53,317.82 L222.53,317.89 L223.52,317.98 L224.52,318.06 L225.51,318.15 L226.51,318.24 L227.50,318.33 L228.50,318.43 L229.49,318.53 L230.48,318.63 L231.48,318.73 L232.47,318.83 L233.46,318.93 L234.46,319.03 L235.45,319.14 L236.44,319.24 L237.44,319.34 L238.43,319.44 L239.42,319.54 L240.41,319.64 L241.41,319.74 L242.40,319.84 L243.40,319.93 L244.39,320.02 L245.38,320.11 L246.38,320.20 L247.37,320.28 L248.37,320.37 L249.36,320.45 L250.36,320.53 L251.35,320.61 L252.35,320.69 L253.35,320.76 L254.34,320.84 L255.34,320.91 L256.33,320.98 L257.33,321.04 L258.33,321.11 L259.32,321.17 L260.32,321.23 L261.32,321.29 L262.31,321.35 L263.31,321.41 L264.31,321.46 L265.30,321.52 L266.30,321.57 L267.30,321.62 L268.30,321.67 L269.29,321.71 L270.29,321.76 L271.29,321.80 L272.28,321.85 L273.28,321.89 L274.28,321.93 L275.28,321.97 L276.28,322.00 L277.27,322.04 L278.27,322.08 L279.27,322.11 L280.27,322.15 L281.27,322.18 L282.26,322.21 L283.26,322.24 L284.26,322.27 L285.26,322.30 L286.26,322.33 L287.25,322.36 L288.25,322.39 L289.25,322.41 L290.25,322.44 L291.25,322.47 L292.24,322.49 L293.24,322.52 L294.24,322.54 L295.24,322.56 L296.24,322.59 L297.24,322.61 L298.23,322.64 L299.23,322.66 L300.23,322.68 L301.23,322.70 L302.23,322.72 L303.23,322.75 L304.22,322.77 L305.22,322.79 L306.22,322.81 L307.22,322.83 L308.22,322.85 L309.22,322.87 L310.21,322.88 L311.21,322.90 L312.21,322.92 L313.21,322.94 L314.21,322.96 L315.20,322.97 L316.20,322.99 L317.20,323.01 L318.20,323.02 L319.20,323.04 L320.20,323.06 L321.19,323.07 L322.19,323.09 L323.19,323.10 L324.19,323.12 L325.19,323.13 L326.19,323.15 L327.18,323.16 L328.18,323.18 L329.18,323.19 L330.18,323.20 L331.18,323.22 L332.18,323.23 L333.17,323.24 L334.17,323.25 L335.17,323.27 L336.17,323.28 L337.17,323.29 L338.17,323.30 L339.16,323.31 L340.16,323.33 L341.16,323.34 L342.16,323.35 L343.16,323.36 L344.16,323.37 L345.15,323.38 L346.15,323.39 L347.15,323.40 L348.15,323.41 L349.15,323.42 L350.15,323.43 L351.14,323.44 L352.14,323.45 L353.14,323.46 L354.14,323.47 L355.14,323.48 L356.14,323.48 L357.13,323.49 L358.13,323.50 L359.13,323.51 L360.13,323.52 L361.13,323.52 L362.13,323.53 L363.13,323.54 L364.12,323.55 L365.12,323.55 L366.12,323.56 L367.12,323.57 L368.12,323.57 L369.12,323.58 L370.11,323.59 L371.11,323.59 L372.11,323.60 L373.11,323.61 L374.11,323.61 L375.11,323.62 L376.10,323.62 L377.10,323.63 L378.10,323.63 L379.10,323.64 L380.10,323.64 L381.10,323.65 L382.09,323.65 L383.09,323.66 L384.09,323.66 L385.09,323.67 L386.09,323.67 L387.09,323.68 L388.09,323.68 L389.08,323.68 L390.08,323.69 L391.08,323.69 L392.08,323.70 L393.08,323.70 L394.08,323.70 L395.07,323.71 L396.07,323.71 L397.07,323.71 L398.07,323.72 L399.07,323.72 L400.07,323.72 L401.07,323.73 L402.06,323.73 L403.06,323.73 L404.06,323.73 L405.06,323.74 L406.06,323.74 L407.06,323.74 L408.05,323.74 L409.05,323.75 L410.05,323.75 L411.05,323.75 L412.05,323.75 L413.05,323.76 L414.05,323.76 L415.04,323.76 L416.04,323.76 L417.04,323.76 L418.04,323.76 L419.04,323.77 L420.04,323.77 L421.03,323.77 L422.03,323.77 L423.03,323.77 L424.03,323.77 L425.03,323.78 L426.03,323.78 L427.03,323.78 L428.02,323.78 L429.02,323.78 L430.02,323.78 L431.02,323.78 L432.02,323.79 L433.02,323.79 L434.02,323.79 L435.01,323.79 L436.01,323.79 L437.01,323.79 L438.01,323.79 L439.01,323.79 L440.01,323.80 L441.00,323.80 L442.00,323.80 L443.00,323.80 L444.00,323.80" fill="none" stroke="#670748" stroke-width="2.25" stroke-dasharray="2.3,5.0" stroke-dashoffset="0.25" stroke-linejoin="round" clip-path="url(#c2)"/>
<path d="M71.80,309.70 L72.42,308.92 L73.05,308.14 L73.67,307.36 L74.30,306.59 L74.93,305.81 L75.56,305.03 L76.20,304.26 L76.84,303.48 L77.47,302.70 L78.09,301.91 L78.70,301.11 L79.28,300.30 L79.84,299.48 L80.36,298.63 L80.84,297.77 L81.29,296.88 L81.70,295.98 L82.09,295.06 L82.45,294.12 L82.78,293.18 L83.10,292.22 L83.40,291.26 L83.68,290.29 L83.96,289.32 L84.23,288.34 L84.49,287.37 L84.76,286.39 L85.02,285.42 L85.29,284.45 L85.55,283.48 L85.82,282.51 L86.09,281.55 L86.36,280.58 L86.63,279.62 L86.90,278.66 L87.17,277.70 L87.44,276.74 L87.71,275.78 L87.98,274.82 L88.26,273.86 L88.53,272.91 L88.80,271.95 L89.07,270.99 L89.35,270.03 L89.62,269.07 L89.89,268.11 L90.17,267.15 L90.44,266.19 L90.71,265.22 L90.99,264.26 L91.26,263.30 L91.54,262.34 L91.81,261.38 L92.09,260.42 L92.36,259.45 L92.64,258.49 L92.92,257.53 L93.20,256.57 L93.48,255.61 L93.76,254.65 L94.04,253.69 L94.33,252.73 L94.61,251.77 L94.90,250.82 L95.19,249.86 L95.48,248.90 L95.77,247.95 L96.07,246.99 L96.36,246.03 L96.66,245.08 L96.96,244.13 L97.26,243.17 L97.57,242.22 L97.87,241.27 L98.18,240.32 L98.49,239.37 L98.79,238.41 L99.10,237.46 L99.41,236.51 L99.73,235.56 L100.04,234.61 L100.35,233.66 L100.66,232.71 L100.97,231.76 L101.28,230.81 L101.58,229.86 L101.89,228.91 L102.19,227.96 L102.49,227.00 L102.79,226.05 L103.09,225.09 L103.38,224.14 L103.67,223.18 L103.95,222.22 L104.23,221.26 L104.51,220.30 L104.78,219.34 L105.05,218.37 L105.31,217.40 L105.56,216.44 L105.81,215.46 L106.05,214.49 L106.30,213.52 L106.53,212.55 L106.77,211.57 L107.01,210.60 L107.24,209.63 L107.47,208.65 L107.71,207.68 L107.94,206.71 L108.18,205.74 L108.42,204.77 L108.67,203.80 L108.91,202.83 L109.17,201.87 L109.42,200.91 L109.69,199.95 L109.96,198.99 L110.23,198.04 L110.52,197.09 L110.81,196.14 L111.11,195.19 L111.41,194.25 L111.72,193.30 L112.04,192.36 L112.37,191.41 L112.70,190.46 L113.04,189.52 L113.38,188.57 L113.74,187.62 L114.10,186.67 L114.47,185.72 L114.85,184.77 L115.26,183.83 L115.70,182.92 L116.19,182.04 L116.74,181.20 L117.35,180.41 L118.05,179.68 L118.83,179.02 L119.70,178.45 L120.63,177.99 L121.61,177.66 L122.60,177.49 L123.59,177.51 L124.55,177.73 L125.48,178.11 L126.37,178.63 L127.20,179.25 L127.97,179.92 L128.68,180.64 L129.35,181.39 L129.97,182.18 L130.56,182.98 L131.12,183.81 L131.66,184.65 L132.20,185.50 L132.74,186.34 L133.28,187.19 L133.83,188.03 L134.40,188.85 L134.98,189.67 L135.58,190.48 L136.19,191.27 L136.83,192.04 L137.48,192.80 L138.15,193.54 L138.85,194.25 L139.57,194.94 L140.30,195.62 L141.05,196.29 L141.80,196.94 L142.56,197.60 L143.32,198.25 L144.08,198.91 L144.82,199.58 L145.55,200.26 L146.26,200.96 L146.95,201.68 L147.62,202.42 L148.28,203.18 L148.92,203.95 L149.55,204.73 L150.17,205.51 L150.78,206.30 L151.40,207.10 L152.00,207.89 L152.60,208.69 L153.20,209.50 L153.79,210.30 L154.37,211.11 L154.96,211.92 L155.53,212.74 L156.11,213.56 L156.68,214.38 L157.25,215.20 L157.82,216.02 L158.40,216.84 L158.97,217.66 L159.55,218.47 L160.14,219.28 L160.73,220.09 L161.34,220.88 L161.95,221.67 L162.58,222.45 L163.21,223.22 L163.85,223.99 L164.50,224.75 L165.15,225.51 L165.80,226.27 L166.46,227.03 L167.11,227.78 L167.77,228.54 L168.43,229.29 L169.08,230.05 L169.74,230.80 L170.39,231.55 L171.05,232.31 L171.70,233.07 L172.35,233.82 L173.01,234.58 L173.66,235.34 L174.31,236.10 L174.95,236.86 L175.60,237.62 L176.26,238.38 L176.91,239.14 L177.56,239.90 L178.21,240.65 L178.87,241.41 L179.53,242.16 L180.19,242.91 L180.85,243.66 L181.52,244.41 L182.19,245.16 L182.86,245.90 L183.53,246.64 L184.21,247.38 L184.89,248.12 L185.57,248.85 L186.26,249.58 L186.95,250.31 L187.64,251.03 L188.34,251.75 L189.04,252.47 L189.75,253.18 L190.45,253.89 L191.16,254.59 L191.88,255.30 L192.60,255.99 L193.32,256.69 L194.05,257.38 L194.78,258.06 L195.51,258.74 L196.25,259.41 L196.99,260.08 L197.74,260.75 L198.49,261.41 L199.24,262.06 L200.00,262.71 L200.77,263.36 L201.54,263.99 L202.31,264.63 L203.09,265.25 L203.87,265.87 L204.66,266.49 L205.45,267.10 L206.24,267.71 L207.04,268.31 L207.84,268.91 L208.64,269.51 L209.44,270.10 L210.25,270.69 L211.06,271.28 L211.86,271.87 L212.67,272.46 L213.48,273.04 L214.30,273.63 L215.11,274.22 L215.92,274.80 L216.73,275.39 L217.53,275.98 L218.34,276.57 L219.15,277.17 L219.95,277.76 L220.75,278.36 L221.55,278.97 L222.35,279.57 L223.15,280.18 L223.94,280.79 L224.74,281.40 L225.53,282.01 L226.33,282.62 L227.12,283.23 L227.91,283.84 L228.71,284.45 L229.50,285.06 L230.30,285.67 L231.09,286.27 L231.89,286.87 L232.69,287.47 L233.50,288.07 L234.30,288.66 L235.11,289.25 L235.92,289.83 L236.74,290.41 L237.55,290.99 L238.37,291.55 L239.20,292.12 L240.03,292.67 L240.86,293.22 L241.70,293.76 L242.55,294.29 L243.40,294.82 L244.25,295.33 L245.11,295.84 L245.98,296.34 L246.85,296.84 L247.72,297.32 L248.60,297.80 L249.48,298.27 L250.37,298.74 L251.26,299.19 L252.16,299.64 L253.06,300.08 L253.96,300.52 L254.87,300.94 L255.78,301.36 L256.69,301.78 L257.61,302.19 L258.53,302.59 L259.45,302.98 L260.37,303.37 L261.30,303.75 L262.23,304.12 L263.16,304.49 L264.10,304.86 L265.03,305.21 L265.97,305.56 L266.91,305.91 L267.85,306.25 L268.80,306.58 L269.74,306.91 L270.69,307.23 L271.64,307.55 L272.59,307.87 L273.54,308.17 L274.49,308.48 L275.44,308.78 L276.40,309.07 L277.36,309.36 L278.31,309.65 L279.27,309.93 L280.23,310.21 L281.19,310.49 L282.16,310.76 L283.12,311.03 L284.08,311.30 L285.05,311.56 L286.02,311.82 L286.98,312.08 L287.95,312.33 L288.92,312.59 L289.89,312.84 L290.86,313.09 L291.83,313.33 L292.80,313.58 L293.77,313.82 L294.74,314.06 L295.71,314.30 L296.69,314.54 L297.66,314.77 L298.63,315.01 L299.61,315.24 L300.58,315.47 L301.55,315.70 L302.53,315.93 L303.51,316.15 L304.48,316.37 L305.46,316.59 L306.44,316.81 L307.41,317.02 L308.39,317.23 L309.37,317.44 L310.35,317.64 L311.33,317.84 L312.31,318.04 L313.29,318.23 L314.27,318.42 L315.26,318.60 L316.24,318.78 L317.22,318.96 L318.21,319.13 L319.19,319.30 L320.18,319.47 L321.17,319.63 L322.15,319.78 L323.14,319.93 L324.13,320.08 L325.12,320.22 L326.11,320.35 L327.10,320.48 L328.09,320.61 L329.08,320.73 L330.08,320.84 L331.07,320.95 L332.06,321.06 L333.06,321.16 L334.05,321.26 L335.05,321.35 L336.04,321.44 L337.04,321.53 L338.04,321.61 L339.04,321.69 L340.03,321.77 L341.03,321.84 L342.03,321.91 L343.03,321.97 L344.03,322.04 L345.03,322.10 L346.02,322.16 L347.02,322.21 L348.02,322.27 L349.02,322.32 L350.02,322.37 L351.02,322.41 L352.02,322.46 L353.02,322.50 L354.02,322.54 L355.02,322.58 L356.02,322.62 L357.02,322.66 L358.02,322.69 L359.02,322.73 L360.02,322.76 L361.02,322.79 L362.02,322.82 L363.02,322.85 L364.02,322.88 L365.02,322.91 L366.02,322.93 L367.02,322.96 L368.02,322.98 L369.01,323.00 L370.01,323.02 L371.01,323.05 L372.01,323.07 L373.01,323.08 L374.01,323.10 L375.01,323.12 L376.01,323.14 L377.01,323.15 L378.01,323.17 L379.01,323.19 L380.01,323.20 L381.01,323.21 L382.01,323.23 L383.01,323.24 L384.01,323.25 L385.01,323.27 L386.01,323.28 L387.01,323.29 L388.01,323.30 L389.01,323.31 L390.01,323.32 L391.00,323.33 L392.00,323.34 L393.00,323.35 L394.00,323.36 L395.00,323.37 L396.00,323.38 L397.00,323.39 L398.00,323.39 L399.00,323.40 L400.00,323.41 L401.00,323.41 L402.00,323.42 L403.00,323.43 L404.00,323.43 L405.00,323.44 L406.00,323.44 L407.00,323.45 L408.00,323.45 L409.00,323.46 L410.00,323.46 L411.00,323.46 L412.00,323.47 L413.00,323.47 L414.00,323.47 L415.00,323.48 L416.00,323.48 L417.00,323.48 L418.00,323.48 L419.00,323.49 L420.00,323.49 L421.00,323.49 L422.00,323.49 L423.00,323.49 L424.00,323.49 L425.00,323.50 L426.00,323.50 L427.00,323.50 L428.00,323.50 L429.00,323.50 L430.00,323.50 L431.00,323.50 L432.00,323.50 L433.00,323.50 L434.00,323.50 L435.00,323.50 L436.00,323.50 L437.00,323.50 L438.00,323.50 L439.00,323.50 L440.00,323.50 L441.00,323.50 L442.00,323.50 L443.00,323.50 L444.00,323.50" fill="none" stroke="#0000ff" stroke-width="2.25" stroke-linejoin="round" clip-path="url(#c2)"/>
<path d="M61.0,1.5 H444.5 V324.5 H61.0 Z M61.0,163.29999999999998 H444.5 M79.50,163.1 v-4.0 M79.50,1.5 v4.0 M79.50,324.5 v-4.0 M79.50,163.1 v4.0 M170.50,163.1 v-8.0 M170.50,1.5 v8.0 M170.50,324.5 v-8.0 M170.50,163.1 v8.0 M261.50,163.1 v-4.0 M261.50,1.5 v4.0 M261.50,324.5 v-4.0 M261.50,163.1 v4.0 M353.50,163.1 v-8.0 M353.50,1.5 v8.0 M353.50,324.5 v-8.0 M353.50,163.1 v8.0 M61.0,145.50 h4.0 M444.5,145.50 h-4.0 M61.0,127.50 h8.0 M444.5,127.50 h-8.0 M61.0,109.50 h4.0 M444.5,109.50 h-4.0 M61.0,91.50 h8.0 M444.5,91.50 h-8.0 M61.0,73.50 h4.0 M444.5,73.50 h-4.0 M61.0,55.50 h8.0 M444.5,55.50 h-8.0 M61.0,37.50 h4.0 M444.5,37.50 h-4.0 M61.0,19.50 h8.0 M444.5,19.50 h-8.0 M61.0,302.50 h4.0 M444.5,302.50 h-4.0 M61.0,279.50 h8.0 M444.5,279.50 h-8.0 M61.0,257.50 h4.0 M444.5,257.50 h-4.0 M61.0,234.50 h8.0 M444.5,234.50 h-8.0 M61.0,212.50 h4.0 M444.5,212.50 h-4.0 M61.0,190.50 h8.0 M444.5,190.50 h-8.0 M61.0,167.50 h4.0 M444.5,167.50 h-4.0" fill="none" stroke="#000" stroke-width="1.0"/>
<g font-family="Liberation Serif, serif" font-size="20" fill="#000">
<text x="57.5" y="169.70" text-anchor="end">0.0</text>
<text x="57.5" y="133.79" text-anchor="end">0.2</text>
<text x="57.5" y="97.88" text-anchor="end">0.4</text>
<text x="57.5" y="61.97" text-anchor="end">0.6</text>
<text x="57.5" y="26.06" text-anchor="end">0.8</text>
<text x="57.5" y="331.10" text-anchor="end">0</text>
<text x="57.5" y="286.27" text-anchor="end">5</text>
<text x="57.5" y="241.43" text-anchor="end">10</text>
<text x="57.5" y="196.60" text-anchor="end">15</text>
<text x="170.57" y="342.8" text-anchor="middle">50</text>
<text x="353.19" y="342.8" text-anchor="middle">100</text>
<text x="253.3" y="359.8" text-anchor="middle" word-spacing="1">r (km)</text>
<text transform="translate(24,82.7) rotate(-90)" text-anchor="middle" word-spacing="1.8">ρ (10<tspan font-size="14" dy="-12">12</tspan><tspan dy="12"> g cm</tspan><tspan font-size="14" dy="-12">-3</tspan><tspan dy="12">)</tspan></text>
<g transform="translate(32.3,257.8) rotate(-90)" stroke="#000" stroke-width="0.4"><text transform="translate(-0.5,0.4) scale(1,1.19)" font-size="17">&lt;</text><text transform="translate(10.3,-0.5) scale(1.28,1.0)" font-size="17.5">τ</text><text transform="translate(19.2,0.4) scale(1,1.19)" font-size="17">&gt;</text></g>
<text x="320.4" y="35.1">ρ<tspan dx="0.6"> (20 ms)</tspan></text>
<text x="320.4" y="56.7">ρ<tspan dx="0.6"> (30 ms)</tspan></text>
<text x="320.6" y="81.1">δρ<tspan font-size="14" dy="7.1" dx="1.4">rms</tspan><tspan dy="-7.1"> (20 ms)</tspan></text>
<text x="320.6" y="107.4">δρ<tspan font-size="14" dy="7.1" dx="1.4">rms</tspan><tspan dy="-7.1"> (30 ms)</tspan></text>
<text transform="translate(341.4,210.00) scale(1,1.25)" font-size="17" stroke="#000" stroke-width="0.3">&lt;</text>
<text transform="translate(351.3,209.10) scale(1.06,0.84)" font-size="22">τ</text>
<text x="360.8" y="217.40" font-size="15.5">ν</text>
<text x="367.6" y="223.80" font-size="10">e</text>
<text transform="translate(373.2,210.00) scale(1,1.25)" font-size="17" stroke="#000" stroke-width="0.3">&gt;</text>
<text transform="translate(341.4,238.50) scale(1,1.25)" font-size="17" stroke="#000" stroke-width="0.3">&lt;</text>
<text transform="translate(351.3,237.60) scale(1.06,0.84)" font-size="22">τ</text>
<text x="360.8" y="245.90" font-size="15.5">ν</text>
<text x="367.6" y="252.30" font-size="10">e</text>
<text transform="translate(373.2,238.50) scale(1,1.25)" font-size="17" stroke="#000" stroke-width="0.3">&gt;</text>
<path d="M360.8,233.50 H367.9" stroke="#000" stroke-width="0.9" fill="none"/>
<text transform="translate(341.4,266.90) scale(1,1.25)" font-size="17" stroke="#000" stroke-width="0.3">&lt;</text>
<text transform="translate(351.3,266.00) scale(1.06,0.84)" font-size="22">τ</text>
<text x="360.8" y="274.30" font-size="15.5">ν</text>
<text x="367.6" y="280.70" font-size="10">x</text>
<text transform="translate(373.2,266.90) scale(1,1.25)" font-size="17" stroke="#000" stroke-width="0.3">&gt;</text>
</g>
<path d="M255.4,30.8 H311.6" fill="none" stroke="#000" stroke-width="2.25"/>
<path d="M255.4,52.9 H311.6" fill="none" stroke="#ff0000" stroke-width="2.25" stroke-dasharray="13.2,5.05" stroke-dashoffset="0.25"/>
<path d="M255.4,77.5 H311.6" fill="none" stroke="#000" stroke-width="2.25" stroke-dasharray="2.3,5.0,9.5,5.0,2.3,5.0" stroke-dashoffset="0.25"/>
<path d="M255.4,104.6 H311.6" fill="none" stroke="#ff0000" stroke-width="2.25" stroke-dasharray="2.3,5.0" stroke-dashoffset="0.25"/>
<path d="M275.8,211.6 H332.5" fill="none" stroke="#0000ff" stroke-width="2.25"/>
<path d="M275.8,240.1 H332.5" fill="none" stroke="#7221bc" stroke-width="2.25" stroke-dasharray="13.2,5.05" stroke-dashoffset="0.25"/>
<path d="M275.8,268.5 H332.5" fill="none" stroke="#670748" stroke-width="2.25" stroke-dasharray="2.3,5.0" stroke-dashoffset="0.25"/>
</svg>
</body></html>
